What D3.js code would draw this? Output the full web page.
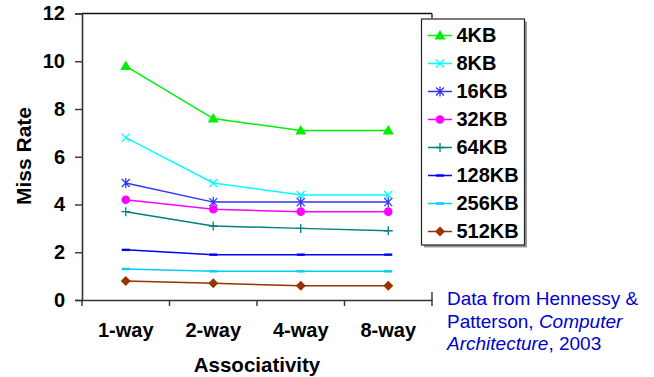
<!DOCTYPE html>
<html>
<head>
<meta charset="utf-8">
<script src="https://cdn.jsdelivr.net/npm/d3@7"></script>
<style>
  body { margin: 0; background: #fff; }
  svg { display: block; font-family: "Liberation Sans", Arial, sans-serif; }
</style>
</head>
<body>
<svg id="chart" width="654" height="377"></svg>
<script>
var categories = ["1-way", "2-way", "4-way", "8-way"];
var seriesNames = ["4KB", "8KB", "16KB", "32KB", "64KB", "128KB", "256KB", "512KB"];
var kb4   = [9.8, 7.6, 7.1, 7.1];
var kb8   = [6.8, 4.9, 4.4, 4.4];
var kb16  = [4.9, 4.1, 4.1, 4.1];
var kb32  = [4.2, 3.8, 3.7, 3.7];
var kb64  = [3.7, 3.1, 3.0, 2.9];
var kb128 = [2.1, 1.9, 1.9, 1.9];
var kb256 = [1.3, 1.2, 1.2, 1.2];
var kb512 = [0.8, 0.7, 0.6, 0.6];
var yTicks = [0, 2, 4, 6, 8, 10, 12];

var seriesValues = [kb4, kb8, kb16, kb32, kb64, kb128, kb256, kb512];
var colors = ["#00ee00", "#00ffff", "#3333ff", "#ff00ff", "#008080", "#0000ff", "#00ccff", "#993300"];
var markers = ["triangle", "cross", "star", "circle", "plus", "dash", "dash", "diamond"];

var svg = d3.select("#chart");
var mLeft = 82, mRight = 432, mTop = 13.5, mBottom = 300;

var x = d3.scaleBand().domain(categories).range([mLeft, mRight]);
var y = d3.scaleLinear().domain([0, 12]).range([mBottom, mTop]);

var series = seriesNames.map(function(name, i) {
  return { name: name, values: seriesValues[i], color: colors[i], marker: markers[i] };
});

// frame top
svg.append("line")
    .attr("x1", mLeft).attr("x2", mRight).attr("y1", mTop).attr("y2", mTop)
    .attr("stroke", "#111").attr("stroke-width", 1.3);
svg.append("line")
    .attr("x1", mRight).attr("x2", mRight).attr("y1", mTop).attr("y2", mTop + 5)
    .attr("stroke", "#111").attr("stroke-width", 1.3);

// y axis
var yAxis = svg.append("g")
    .attr("transform", "translate(" + mLeft + ",0)")
    .call(d3.axisLeft(y).tickValues(yTicks).tickSize(7).tickPadding(10));
yAxis.select(".domain").attr("stroke", "#333").attr("stroke-width", 1.6);
yAxis.selectAll(".tick line").attr("stroke", "#333").attr("stroke-width", 1.4);
yAxis.selectAll(".tick text")
    .attr("font-size", 20).attr("font-weight", "bold").attr("fill", "#000")
    .attr("font-family", "Liberation Sans, Arial, sans-serif");

// x axis
var xAxis = svg.append("g")
    .attr("transform", "translate(0," + mBottom + ")")
    .call(d3.axisBottom(x).tickSize(0).tickPadding(22.5));
xAxis.select(".domain").attr("stroke", "#333").attr("stroke-width", 1.6);
xAxis.selectAll(".tick text")
    .attr("font-size", 20).attr("font-weight", "bold").attr("fill", "#000")
    .attr("font-family", "Liberation Sans, Arial, sans-serif");

// category boundary ticks
var bounds = categories.map(function(c) { return x(c); }).concat([mRight]);
svg.append("g").selectAll("line")
    .data(bounds)
    .enter().append("line")
    .attr("x1", function(d) { return d; })
    .attr("x2", function(d) { return d; })
    .attr("y1", function(d, i) { return i === bounds.length - 1 ? mBottom - 8 : mBottom; })
    .attr("y2", mBottom + 6)
    .attr("stroke", "#333").attr("stroke-width", 1.4);

// axis titles
svg.append("text")
    .attr("x", (mLeft + mRight) / 2).attr("y", 372)
    .attr("text-anchor", "middle")
    .attr("font-size", 20.5).attr("font-weight", "bold")
    .text("Associativity");
svg.append("text")
    .attr("transform", "translate(31,156) rotate(-90)")
    .attr("text-anchor", "middle")
    .attr("font-size", 21).attr("font-weight", "bold")
    .text("Miss Rate");

function drawMarker(g, type, color) {
  if (type === "triangle") {
    g.append("path").attr("d", "M0,-5.5L5.5,4L-5.5,4Z").attr("fill", color);
  } else if (type === "cross") {
    g.append("path").attr("d", "M-4,-4L4,4M-4,4L4,-4").attr("stroke", color).attr("stroke-width", 1.3);
  } else if (type === "star") {
    g.append("path").attr("d", "M-4,-4L4,4M-4,4L4,-4M0,-5L0,5").attr("stroke", color).attr("stroke-width", 1.3);
  } else if (type === "circle") {
    g.append("circle").attr("r", 4.3).attr("fill", color);
  } else if (type === "plus") {
    g.append("path").attr("d", "M-4.5,0L4.5,0M0,-4.5L0,4.5").attr("stroke", color).attr("stroke-width", 1.3);
  } else if (type === "dash") {
    g.append("path").attr("d", "M-4,0L4,0").attr("stroke", color).attr("stroke-width", 2.4);
  } else if (type === "diamond") {
    g.append("path").attr("d", "M0,-5L5,0L0,5L-5,0Z").attr("fill", color);
  }
}

var line = d3.line()
    .x(function(d, i) { return x(categories[i]) + x.bandwidth() / 2; })
    .y(function(d) { return y(d); });

var sg = svg.append("g").selectAll("g")
    .data(series)
    .enter().append("g");

sg.append("path")
    .attr("d", function(d) { return line(d.values); })
    .attr("fill", "none")
    .attr("stroke", function(d) { return d.color; })
    .attr("stroke-width", 1.5);

sg.each(function(d) {
  var g = d3.select(this);
  d.values.forEach(function(v, i) {
    var m = g.append("g")
        .attr("transform", "translate(" + (x(categories[i]) + x.bandwidth() / 2) + "," + y(v) + ")");
    drawMarker(m, d.marker, d.color);
  });
});

// legend
var lg = svg.append("g");
lg.append("rect")
    .attr("x", 424).attr("y", 21.5).attr("width", 103).attr("height", 226)
    .attr("fill", "#999");
lg.append("rect")
    .attr("x", 421.5).attr("y", 19).attr("width", 103).attr("height", 226)
    .attr("fill", "#fff").attr("stroke", "#222").attr("stroke-width", 1.2);

var items = lg.selectAll(".item")
    .data(series)
    .enter().append("g")
    .attr("class", "item")
    .attr("transform", function(d, i) { return "translate(0," + (35.5 + i * 28) + ")"; });
items.append("line")
    .attr("x1", 428).attr("x2", 452)
    .attr("stroke", function(d) { return d.color; })
    .attr("stroke-width", 1.5);
items.each(function(d) {
  var m = d3.select(this).append("g").attr("transform", "translate(440,0)");
  drawMarker(m, d.marker, d.color);
});
items.append("text")
    .attr("x", 456.5).attr("y", 6.5)
    .attr("font-size", 20).attr("font-weight", "bold")
    .text(function(d) { return d.name; });

// source note
var note = svg.append("text")
    .attr("x", 447).attr("y", 305)
    .attr("font-size", 19).attr("fill", "#0000cc");
note.append("tspan").text("Data from Hennessy &");
var l2 = note.append("tspan").attr("x", 447).attr("dy", 22.5);
l2.append("tspan").text("Patterson, ");
l2.append("tspan").attr("font-style", "italic").text("Computer");
var l3 = note.append("tspan").attr("x", 447).attr("dy", 22.5);
l3.append("tspan").attr("font-style", "italic").text("Architecture");
l3.append("tspan").text(", 2003");
</script>
</body>
</html>
